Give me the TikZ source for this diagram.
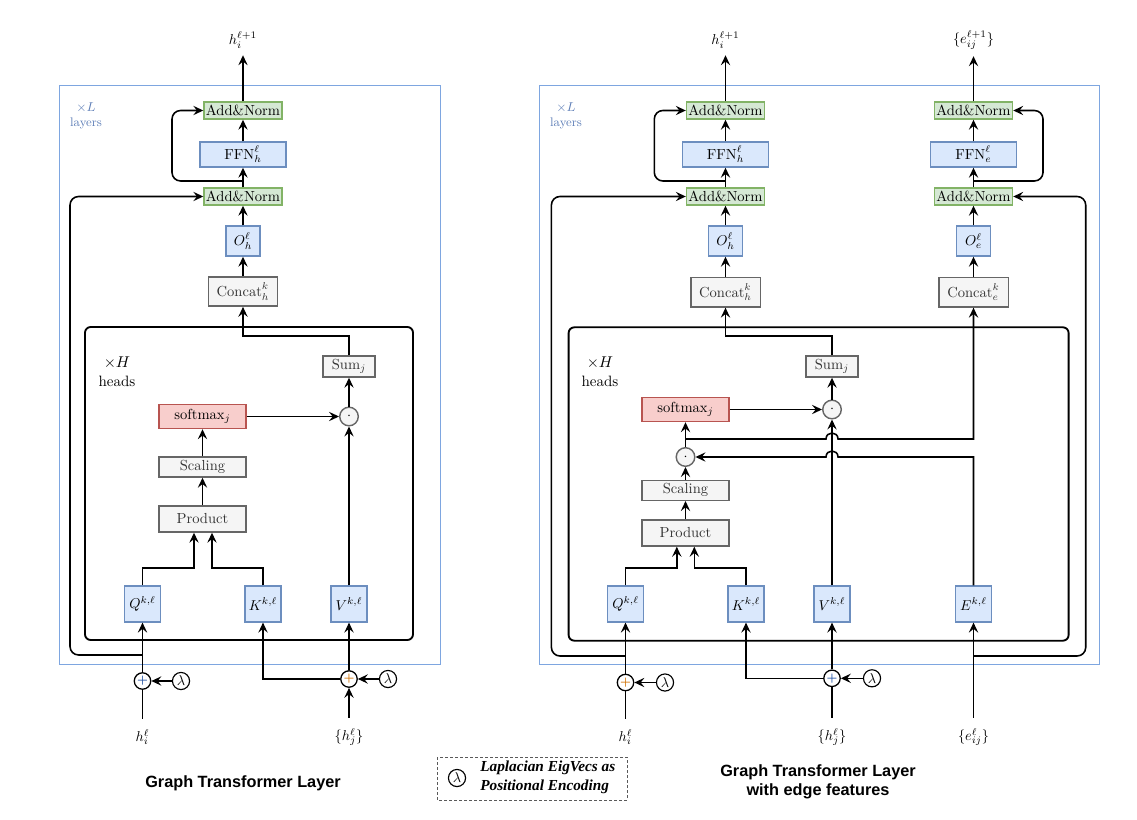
\documentclass[tikz,border=0pt]{standalone}
\usepackage{fontspec}
\newfontfamily\titlefont{Liberation Sans}
\newfontfamily\legendfont{Liberation Serif}
\usetikzlibrary{arrows.meta,calc}
\definecolor{bfill}{HTML}{DAE8FC}
\definecolor{bstroke}{HTML}{6C8EBF}
\definecolor{gnfill}{HTML}{D5E8D4}
\definecolor{gnstroke}{HTML}{82B366}
\definecolor{rfill}{HTML}{F8CECC}
\definecolor{rstroke}{HTML}{B85450}
\definecolor{gyfill}{HTML}{F5F5F5}
\definecolor{gystroke}{HTML}{666666}
\definecolor{outerblue}{HTML}{7EA6E0}
\definecolor{layertext}{HTML}{6080B8}
\definecolor{plusblue}{HTML}{1F4FA0}
\definecolor{plusorange}{HTML}{D07000}
\begin{document}
\begin{tikzpicture}[x=0.7pt,y=-0.7pt,
  box/.style={draw, line width=1pt, inner sep=0pt, font=\fontsize{10.2}{12}\selectfont},
  bluebox/.style={box, draw=bstroke, fill=bfill},
  greenbox/.style={box, draw=gnstroke, fill=gnfill, minimum width=54.6pt, minimum height=11.9pt},
  redbox/.style={box, draw=rstroke, fill=rfill},
  graybox/.style={box, draw=gystroke, fill=gyfill, text=black!80},
  qkv/.style={bluebox, minimum width=25pt, minimum height=25pt},
  ffn/.style={bluebox, minimum width=60.2pt, minimum height=17.5pt},
  obox/.style={bluebox, minimum width=23.8pt, minimum height=21pt},
  concat/.style={graybox, minimum width=48.6pt, minimum height=20.5pt},
  sumbox/.style={graybox, minimum width=36.4pt, minimum height=14.7pt},
  wide/.style={minimum width=60.9pt},
  arr/.style={-{Stealth[length=7pt,width=6.5pt,inset=2.6pt]}, line width=1.1pt},
  ln/.style={line width=1.1pt},
  dotc/.style={circle, draw=gystroke, fill=gyfill, line width=1pt, minimum size=13pt, inner sep=0pt},
  plusc/.style={circle, draw, fill=white, line width=0.9pt, minimum size=11.5pt, inner sep=0pt, font=\fontsize{8}{8}\selectfont\bfseries},
  lamc/.style={circle, draw, line width=0.8pt, minimum size=12pt, inner sep=0pt},
  lbl/.style={inner sep=1pt, font=\fontsize{10.2}{12}\selectfont},
  layerlbl/.style={align=center, text=layertext, font=\fontsize{8.7}{10.5}\selectfont},
  headlbl/.style={align=center, font=\fontsize{10.5}{13}\selectfont},
  outerrect/.style={draw=outerblue, line width=0.7pt},
  innerrect/.style={draw, line width=1.3pt, rounded corners=4pt},
  loop/.style={arr, rounded corners=6pt},
  inlbl/.style={shorten <=6pt}
]
\useasboundingbox (0,0) rectangle (1137,820);

% ================= LEFT DIAGRAM =================
\draw[outerrect] (59,86) rectangle (440,664);
\draw[innerrect] (85,327) rectangle (413,640);
\node[layerlbl] (Lxl) at (86,116) {$\times L$\\layers};
\node[headlbl] (Lxh) at (117,372) {$\times H$\\heads};

\node[lbl] (Lout) at (243,40) {$h_i^{\ell+1}$};
\node[greenbox] (LAN2) at (243,110.5) {Add\&Norm};
\node[ffn] (LFFN) at (243,154.5) {$\mathrm{FFN}_h^{\ell}$};
\node[greenbox] (LAN1) at (243,196.5) {Add\&Norm};
\node[obox] (LO) at (243,241) {$O_h^{\ell}$};
\node[concat] (LConcat) at (243,291.5) {$\mathrm{Concat}_h^{k}$};
\node[sumbox] (LSum) at (349,366.5) {$\mathrm{Sum}_j$};
\node[dotc] (LDot) at (349,416.5) {$\cdot$};
\node[redbox, wide, minimum height=16.8pt] (LSoft) at (202.5,416.5) {$\mathrm{softmax}_j$};
\node[graybox, wide, minimum height=14pt] (LScale) at (202.5,467) {Scaling};
\node[graybox, wide, minimum height=18.2pt] (LProd) at (202.5,519) {Product};
\node[qkv] (LQ) at (142.5,604) {$Q^{k,\ell}$};
\node[qkv] (LK) at (263,604) {$K^{k,\ell}$};
\node[qkv] (LV) at (349,604) {$V^{k,\ell}$};
\node[plusc, text=plusblue] (LPlusQ) at (142.5,681) {+};
\node[lamc] (LLamQ) at (181,681) {$\lambda$};
\node[plusc, text=plusorange] (LPlusV) at (349,679) {+};
\node[lamc] (LLamV) at (388,679) {$\lambda$};
\node[lbl] (Lhi) at (142.5,737) {$h_i^{\ell}$};
\node[lbl] (Lhj) at (349,737) {$\{h_j^{\ell}\}$};

\draw[arr, shorten >=3.5pt] (LAN2.north) -- (Lout.south);
\draw[arr] (LFFN.north) -- (LAN2.south);
\draw[arr] (LAN1.north) -- (LFFN.south);
\coordinate (Lr1) at (243,181);
\coordinate (Lr2) at (172,181);
\draw[loop] (Lr1) -- (Lr2) |- (LAN2.west);
\draw[arr] (LO.north) -- (LAN1.south);
\draw[arr] (LConcat.north) -- (LO.south);
\coordinate (Lc1) at (243,336);
\draw[arr] (LSum.north) |- (Lc1) -- (LConcat.south);
\draw[arr] (LDot.north) -- (LSum.south);
\draw[arr] (LSoft.east) -- (LDot.west);
\draw[arr] (LScale.north) -- (LSoft.south);
\draw[arr] (LProd.north) -- (LScale.south);
\coordinate (Lq1) at (194,568);
\coordinate (Lk1) at (212,568);
\draw[arr] (LQ.north) |- (Lq1) -- (Lq1 |- LProd.south);
\draw[arr] (LK.north) |- (Lk1) -- (Lk1 |- LProd.south);
\draw[arr] (LV.north) -- (LDot.south);
\draw[arr] (LPlusQ.north) -- (LQ.south);
\coordinate (Lo1) at (142.5,655);
\coordinate (Lo2) at (70,655);
\draw[loop] (Lo1) -- (Lo2) |- (LAN1.west);
\draw[arr] (LLamQ.west) -- (LPlusQ.east);
\draw[ln, inlbl] (Lhi.north) -- (LPlusQ.south);
\draw[arr] (LPlusV.north) -- (LV.south);
\draw[arr] (LPlusV.west) -| (LK.south);
\draw[arr] (LLamV.west) -- (LPlusV.east);
\draw[arr, inlbl] (Lhj.north) -- (LPlusV.south);

\node[font=\titlefont\bfseries\fontsize{11.4}{14}\selectfont] (Ltitle) at (243,783) {Graph Transformer Layer};

% ================= LEGEND =================
\draw[draw=black!65, line width=0.6pt, dash pattern=on 2pt off 1.5pt] (437,757) rectangle (627,800);
\node[lamc] (Glam) at (457,778) {$\lambda$};
\node[anchor=west, align=left, inner sep=0pt, font=\legendfont\bfseries\itshape\fontsize{10.7}{13}\selectfont] (Gtext) at (480,777.5) {Laplacian EigVecs as\\Positional Encoding};

% ================= RIGHT DIAGRAM =================
\draw[outerrect] (539,86) rectangle (1099,664);
\draw[innerrect] (568.6,327.3) rectangle (1068.6,640.7);
\node[layerlbl] (Rxl) at (566,116) {$\times L$\\layers};
\node[headlbl] (Rxh) at (600,372) {$\times H$\\heads};

\node[lbl] (Rout) at (725.5,40) {$h_i^{\ell+1}$};
\node[lbl] (Reout) at (973.5,40) {$\{e_{ij}^{\ell+1}\}$};
\node[greenbox] (RAN2) at (725.5,110.5) {Add\&Norm};
\node[ffn] (RFFN) at (725.5,154.5) {$\mathrm{FFN}_h^{\ell}$};
\node[greenbox] (RAN1) at (725.5,196.5) {Add\&Norm};
\node[obox] (RO) at (725.5,241) {$O_h^{\ell}$};
\node[concat] (RConcat) at (725.5,292.3) {$\mathrm{Concat}_h^{k}$};
\node[greenbox] (REAN2) at (973.5,110.5) {Add\&Norm};
\node[ffn] (REFFN) at (973.5,154.5) {$\mathrm{FFN}_e^{\ell}$};
\node[greenbox] (REAN1) at (973.5,196.5) {Add\&Norm};
\node[obox] (REO) at (973.5,241) {$O_e^{\ell}$};
\node[concat] (REConcat) at (973.5,292.3) {$\mathrm{Concat}_e^{k}$};
\node[sumbox] (RSum) at (832,366.5) {$\mathrm{Sum}_j$};
\node[dotc] (RDot1) at (832,409.5) {$\cdot$};
\node[redbox, wide, minimum height=16.8pt] (RSoft) at (685.5,409.5) {$\mathrm{softmax}_j$};
\node[dotc] (RDot2) at (685.5,457) {$\cdot$};
\node[graybox, wide, minimum height=14pt] (RScale) at (685.5,490.3) {Scaling};
\node[graybox, wide, minimum height=18.2pt] (RProd) at (685.5,533) {Product};
\node[qkv] (RQ) at (625.5,604) {$Q^{k,\ell}$};
\node[qkv] (RK) at (746,604) {$K^{k,\ell}$};
\node[qkv] (RV) at (832,604) {$V^{k,\ell}$};
\node[qkv] (RE) at (973.5,604) {$E^{k,\ell}$};
\node[plusc, text=plusorange] (RPlusQ) at (625.5,682.5) {+};
\node[lamc] (RLamQ) at (665,682.5) {$\lambda$};
\node[plusc, text=plusblue] (RPlusV) at (832,678.3) {+};
\node[lamc] (RLamV) at (872,678.3) {$\lambda$};
\node[lbl] (Rhi) at (625.5,737) {$h_i^{\ell}$};
\node[lbl] (Rhj) at (832,737) {$\{h_j^{\ell}\}$};
\node[lbl] (Reij) at (973.5,737) {$\{e_{ij}^{\ell}\}$};

\draw[arr, shorten >=3.5pt] (RAN2.north) -- (Rout.south);
\draw[arr, shorten >=3.5pt] (REAN2.north) -- (Reout.south);
\draw[arr] (RFFN.north) -- (RAN2.south);
\draw[arr] (RAN1.north) -- (RFFN.south);
\draw[arr] (RO.north) -- (RAN1.south);
\draw[arr] (RConcat.north) -- (RO.south);
\draw[arr] (REFFN.north) -- (REAN2.south);
\draw[arr] (REAN1.north) -- (REFFN.south);
\draw[arr] (REO.north) -- (REAN1.south);
\draw[arr] (REConcat.north) -- (REO.south);
\coordinate (Rr1) at (725.5,181);
\coordinate (Rr2) at (654.3,181);
\draw[loop] (Rr1) -- (Rr2) |- (RAN2.west);
\coordinate (Rer1) at (973.5,181);
\coordinate (Rer2) at (1043,181);
\draw[loop] (Rer1) -- (Rer2) |- (REAN2.east);
\coordinate (Rc1) at (725.5,336);
\draw[arr] (RSum.north) |- (Rc1) -- (RConcat.south);
\draw[arr] (RDot1.north) -- (RSum.south);
\draw[arr] (RSoft.east) -- (RDot1.west);
\draw[arr] (RDot2.north) -- (RSoft.south);
% branch to edge output, hopping over V line
\coordinate (Rb1) at (685.5,439);
\coordinate (Rb2) at (973.5,439);
\draw[arr] (Rb1) -- (826,439) .. controls (826,431) and (838,431) .. (838,439) -- (Rb2) -- (REConcat.south);
% E line into second dot, hopping over V line
\coordinate (Re1) at (973.5,457);
\draw[arr] (RE.north) -- (Re1) -- (838,457) .. controls (838,449) and (826,449) .. (826,457) -- (RDot2.east);
\draw[arr] (RScale.north) -- (RDot2.south);
\draw[arr] (RProd.north) -- (RScale.south);
\coordinate (Rq1) at (676.8,568);
\coordinate (Rk1) at (694.3,568);
\draw[arr] (RQ.north) |- (Rq1) -- (Rq1 |- RProd.south);
\draw[arr] (RK.north) |- (Rk1) -- (Rk1 |- RProd.south);
\draw[arr] (RV.north) -- (RDot1.south);
\draw[arr] (RPlusQ.north) -- (RQ.south);
\draw[arr] (RLamQ.west) -- (RPlusQ.east);
\draw[ln, inlbl] (Rhi.north) -- (RPlusQ.south);
\draw[arr] (RPlusV.north) -- (RV.south);
\draw[arr] (RPlusV.west) -| (RK.south);
\draw[arr] (RLamV.west) -- (RPlusV.east);
\draw[ln, inlbl] (Rhj.north) -- (RPlusV.south);
\draw[arr, inlbl] (Reij.north) -- (RE.south);
\coordinate (Ro1) at (625.5,656);
\coordinate (Ro2) at (551.4,656);
\draw[loop] (Ro1) -- (Ro2) |- (RAN1.west);
\coordinate (Ro3) at (973.5,656);
\coordinate (Ro4) at (1085.7,656);
\draw[loop] (Ro3) -- (Ro4) |- (REAN1.east);

\node[align=center, font=\titlefont\bfseries\fontsize{11.4}{13.3}\selectfont] (Rtitle) at (818,782) {Graph Transformer Layer\\with edge features};
\end{tikzpicture}
\end{document}
